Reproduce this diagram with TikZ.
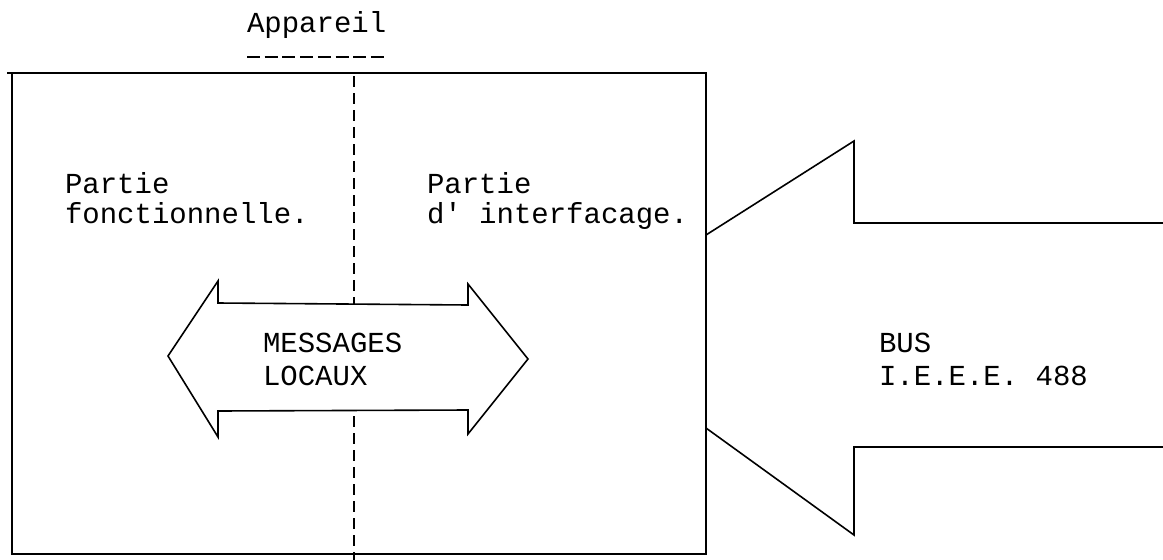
\documentclass[tikz,border=0pt]{standalone}
\usepackage{fontspec}
\setmonofont{Liberation Mono}
\begin{document}
\begin{tikzpicture}[x=1pt,y=-1pt,
  line/.style={line width=1.6pt,line join=miter},
  lbl/.style={anchor=base west,inner sep=0pt,outer sep=0pt,font=\ttfamily\fontsize{29}{21}\selectfont},
  divider/.style={line width=1.6pt,dash pattern=on 11pt off 6pt},
  underl/.style={line width=1.8pt,dash pattern=on 13pt off 4.7pt}]
\useasboundingbox[fill=white] (0,0) rectangle (1163,560);
% title
\node[lbl] (appareil) at (247,32) {Appareil};
\coordinate (ulA) at (247,57);
\coordinate (ulB) at (386,57);
\draw[underl] (ulA) -- (ulB);
% box
\coordinate (boxTL) at (12,73);
\coordinate (boxBR) at (706,554);
\coordinate (topL) at (7,73);
\draw[line] (boxTL) rectangle (boxBR);
\draw[line] (topL) -- (boxTL);
% divider
\coordinate (divT) at (354,76);
\coordinate (divB) at (354,560);
\draw[divider] (divT) -- (divB);
% texts
\node[lbl] (pf1) at (65,193) {Partie};
\node[lbl] (pf2) at (65,223) {fonctionnelle.};
\node[lbl] (pi1) at (427,193) {Partie};
\node[lbl] (pi2) at (427,223) {d' interfacage.};
% double arrow
\coordinate (dL) at (168,356);
\coordinate (dTL) at (218,281);
\coordinate (dSTL) at (218,303);
\coordinate (dSTR) at (468,305);
\coordinate (dTR) at (468,284);
\coordinate (dR) at (528,359);
\coordinate (dBR) at (468,434);
\coordinate (dSBR) at (468,410);
\coordinate (dSBL) at (218,411);
\coordinate (dBL) at (218,437);
\draw[line,fill=white] (dL) -- (dTL) -- (dSTL) -- (dSTR) -- (dTR) -- (dR) -- (dBR) -- (dSBR) -- (dSBL) -- (dBL) -- cycle;
\node[lbl] (msg1) at (263,352) {MESSAGES};
\node[lbl] (msg2) at (263,385) {LOCAUX};
% bus arrow
\coordinate (bU0) at (706,235);
\coordinate (bU1) at (854,141);
\coordinate (bU2) at (854,223);
\coordinate (bU3) at (1163,223);
\coordinate (bL0) at (706,428);
\coordinate (bL1) at (854,535);
\coordinate (bL2) at (854,447);
\coordinate (bL3) at (1163,447);
\draw[line] (bU0) -- (bU1) -- (bU2) -- (bU3);
\draw[line] (bL0) -- (bL1) -- (bL2) -- (bL3);
\node[lbl] (bus1) at (879,352) {BUS};
\node[lbl] (bus2) at (879,385) {I.E.E.E. 488};
\end{tikzpicture}
\end{document}
